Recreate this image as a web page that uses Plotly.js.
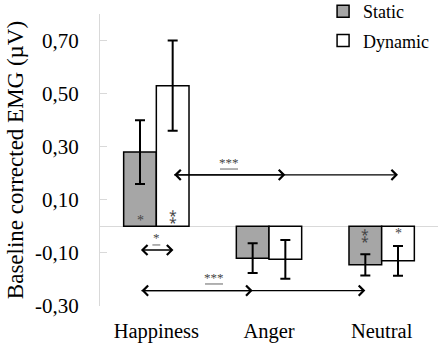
<!DOCTYPE html>
<html><head><meta charset="utf-8">
<script src="https://cdn.plot.ly/plotly-3.0.1.min.js"></script>
<style>html,body{margin:0;padding:0;background:#fff}#c{width:440px;height:344px}</style>
</head><body><div id="c"></div>
<script>
const categories = ['Happiness', 'Anger', 'Neutral'];
const staticVals = [0.28, -0.12, -0.145];
const staticErr = [0.12, 0.056, 0.04];
const dynamicVals = [0.53, -0.124, -0.13];
const dynamicErr = [0.17, 0.073, 0.056];
const yTicks = [-0.30, -0.10, 0.10, 0.30, 0.50, 0.70];
const yTickText = ['-0,30', '-0,10', '0,10', '0,30', '0,50', '0,70'];

const serif = 'Liberation Serif, Times New Roman, serif';

const traces = [
  {type:'bar', name:'Static', legendgroup:'s', x:categories, y:staticVals,
   marker:{color:'#a6a6a6', line:{color:'#000', width:1.5}},
   error_y:{type:'data', array:staticErr, visible:true, color:'#000', thickness:2, width:5}},
  {type:'bar', name:'Dynamic', legendgroup:'d', x:categories, y:dynamicVals,
   marker:{color:'#ffffff', line:{color:'#000', width:1.5}},
   error_y:{type:'data', array:dynamicErr, visible:true, color:'#000', thickness:2, width:5}}
];

// significance markers (x in category index units, y in data units)
const starColor = '#444';
const stars = [
  {x:-0.145, y:0.022, t:'*', s:14},
  {x:0.145, y:0.037, t:'⁑', s:14},
  {x:1.855, y:-0.034, t:'⁑', s:14},
  {x:2.145, y:-0.025, t:'*', s:14},
  {x:0.645, y:0.24, t:'***', s:13},
  {x:0.512, y:-0.193, t:'***', s:13},
  {x:0.0, y:-0.043, t:'*', s:13}
];
const annotations = stars.map(s => ({xref:'x', yref:'y', x:s.x, y:s.y, text:s.t, showarrow:false,
  font:{family:serif, size:s.s, color:starColor}, yanchor:'middle'}));

function arrow(x0, x1, y, both){
  return {xref:'x', yref:'y', axref:'x', ayref:'y', x:x1, y:y, ax:x0, ay:y, text:'',
    showarrow:true, arrowhead:4, startarrowhead:4, arrowside: both ? 'end+start' : 'end',
    arrowsize:1.5, startarrowsize:1.5, arrowwidth:1.3, arrowcolor:'#000', standoff:0, startstandoff:0};
}
annotations.push(arrow(0.145, 2.145, 0.194, true));
annotations.push(arrow(0.145, 1.145, 0.194, false));
annotations.push(arrow(-0.145, 1.855, -0.242, true));
annotations.push(arrow(-0.145, 0.855, -0.242, false));
annotations.push(arrow(-0.15, 0.152, -0.089, true));

const shapes = [
  {type:'line', xref:'x', yref:'y', x0:0.565, x1:0.725, y0:0.216, y1:0.216, line:{color:'#888', width:1.3}},
  {type:'line', xref:'x', yref:'y', x0:0.432, x1:0.592, y0:-0.217, y1:-0.217, line:{color:'#888', width:1.3}},
  {type:'line', xref:'x', yref:'y', x0:-0.035, x1:0.035, y0:-0.07, y1:-0.07, line:{color:'#888', width:1.3}}
];

const layout = {
  width:440, height:344,
  margin:{l:100, r:2, t:14, b:38, autoexpand:false},
  paper_bgcolor:'#fff', plot_bgcolor:'#fff',
  barmode:'group', bargap:0.42, bargroupgap:0,
  font:{family:serif, color:'#000'},
  showlegend:true,
  legend:{x:0.66, xanchor:'left', y:1.072, yanchor:'top', font:{family:serif, size:18, color:'#000'},
          bgcolor:'rgba(0,0,0,0)', itemwidth:30, tracegroupgap:3},
  xaxis:{type:'category', range:[-0.5, 2.5], showline:false, ticks:'', showgrid:false, zeroline:false,
         tickfont:{family:serif, size:20.5, color:'#000'}, ticklabelstandoff:10},
  yaxis:{range:[-0.3, 0.8], tickvals:yTicks, ticktext:yTickText, showgrid:false,
         zeroline:true, zerolinecolor:'#d9d9d9', zerolinewidth:1,
         showline:true, linecolor:'#d9d9d9', linewidth:1,
         ticks:'inside', ticklen:7, tickcolor:'#d9d9d9',
         tickfont:{family:serif, size:21, color:'#000'}, ticklabelstandoff:16,
         title:{text:'Baseline corrected EMG (µV)', font:{family:serif, size:23, color:'#000'}, standoff:4}},
  annotations: annotations,
  shapes: shapes
};

Plotly.newPlot('c', traces, layout, {displayModeBar:false, staticPlot:true});
</script>
</body></html>
